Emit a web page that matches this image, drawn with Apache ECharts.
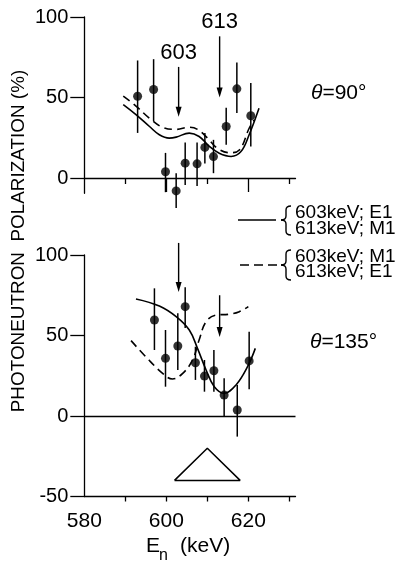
<!DOCTYPE html>
<html><head><meta charset="utf-8">
<script src="https://cdn.jsdelivr.net/npm/echarts@6/dist/echarts.min.js"></script>
<style>html,body{margin:0;padding:0;background:#fff}#c{width:403px;height:561px}</style>
</head><body><div id="c"></div>
<script>
// ---------- top panel (theta = 90 deg) ----------
const topX  = [593.0, 596.9, 599.8, 602.4, 604.6, 607.5, 609.4, 611.5, 614.6, 617.2, 620.6];
const topY  = [50.8, 55.0, 3.9, -8.0, 9.2, 8.8, 19.0, 13.3, 32.0, 55.4, 38.7];
const topLo = [28, 35.2, -8.8, -18.6, -4.4, -5, 9, 3, 20.6, 40.4, 19.6];
const topHi = [73, 73.8, 15.6, 3, 22, 22, 28, 23.7, 43.7, 71.7, 59];
const topSolidX = [589.5, 592.6, 595.9, 598.3, 600.7, 602.4, 605.6, 608.0, 610.5, 612.9, 615.8, 618.2, 620.2, 622.6];
const topSolidY = [45.6, 39.4, 32.0, 26.9, 24.8, 25.4, 27.9, 25.8, 19.6, 15.4, 13.4, 16.4, 26.9, 43.3];
const topDashX  = [589.5, 592.6, 595.9, 599.1, 602.4, 605.6, 607.6, 610.1, 612.5, 615.4, 617.8, 620.2, 621.4];
const topDashY  = [50.8, 44.7, 37.1, 31.5, 30.2, 31.5, 30.2, 24.7, 18.4, 15.7, 17.4, 30.9, 36.0];
const topArrowX = [603, 613];
const topArrowFrom = [69, 88];
const topArrowTo = [38, 50];
const topArrowLabel = ['603', '613'];

// ---------- bottom panel (theta = 135 deg) ----------
const botX  = [597.1, 599.8, 602.8, 604.6, 607.1, 609.3, 611.6, 614.1, 617.3, 620.2];
const botY  = [59.6, 35.8, 43.5, 67.9, 33.1, 24.8, 28.1, 13.0, 3.7, 34.2];
const botLo = [41, 18.2, 28.6, 54.6, 22.4, 15.1, 15, 0, -12.8, 16.6];
const botHi = [79.3, 53.4, 63.8, 80, 43, 34.8, 41, 23.4, 19.3, 52.4];
const botSolidX = [592.6, 598.3, 602.4, 605.6, 607.6, 609.7, 611.7, 614.1, 617.0, 619.8, 621.7];
const botSolidY = [72.7, 68.3, 61.7, 53.4, 42.0, 28.6, 18.2, 14.1, 19.3, 30.6, 42.0];
const botDashX  = [591.4, 595.0, 599.1, 601.5, 604.0, 606.4, 608.0, 609.7, 612.1, 615.4, 617.8, 620.0];
const botDashY  = [46.8, 36.8, 26.5, 23.0, 26.5, 34.8, 47.2, 58.6, 62.7, 63.2, 64.8, 67.9];
const botArrowX = [603, 613];
const botArrowFrom = [107.5, 75];
const botArrowTo = [77, 49];
const triX = [602, 610, 618, 602];
const triY = [-40, -20, -40, -40];

// ---------- ticks ----------
const xTickLabels = [580, 600, 620];
const xMajorTicks = [600, 620];
const xMinorTicks = [590, 610, 630];
const xBottomTicks = [590, 600, 610, 620, 630];
const yTicksTop = [0, 50, 100];
const yTicksBot = [-50, 0, 50, 100];

const FONT = 'Liberation Sans';
const zip2 = (a, b) => a.map((v, i) => [v, b[i]]);
const zip3 = (a, b, c) => a.map((v, i) => [v, b[i], c[i]]);

function errRender(params, api) {
  const x = api.value(0);
  const p1 = api.coord([x, api.value(1)]), p2 = api.coord([x, api.value(2)]);
  return {type: 'line', shape: {x1: p1[0], y1: p1[1], x2: p2[0], y2: p2[1]},
          style: {stroke: '#000', lineWidth: 1.5}};
}
function makeArrowRender(labels) {
  return function (params, api) {
    const x = api.value(0);
    const a = api.coord([x, api.value(1)]), b = api.coord([x, api.value(2)]);
    const ch = [
      {type: 'line', shape: {x1: a[0], y1: a[1], x2: b[0], y2: b[1] - 6}, style: {stroke: '#000', lineWidth: 1.4}},
      {type: 'polygon', shape: {points: [[b[0] - 3, b[1] - 10], [b[0] + 3, b[1] - 10], [b[0], b[1]]]}, style: {fill: '#000'}}
    ];
    if (labels && labels[params.dataIndex]) {
      ch.push({type: 'text', x: a[0], y: a[1] - 14,
        style: {text: labels[params.dataIndex], align: 'center', verticalAlign: 'middle',
                font: '22px "' + FONT + '"', fill: '#000'}});
    }
    return {type: 'group', children: ch};
  };
}
// legend brace (pure decoration)
function brace(xr, xt, y0, ym, y1) {
  const xm = xt + 5, st = {stroke: '#000', lineWidth: 1.4, fill: null};
  return {type: 'group', children: [
    {type: 'bezierCurve', shape: {x1: xr, y1: y0, cpx1: xm, cpy1: y0, x2: xm, y2: y0 + 4}, style: st},
    {type: 'line', shape: {x1: xm, y1: y0 + 4, x2: xm, y2: ym - 4}, style: st},
    {type: 'bezierCurve', shape: {x1: xm, y1: ym - 4, cpx1: xm, cpy1: ym, x2: xt, y2: ym}, style: st},
    {type: 'bezierCurve', shape: {x1: xt, y1: ym, cpx1: xm, cpy1: ym, x2: xm, y2: ym + 4}, style: st},
    {type: 'line', shape: {x1: xm, y1: ym + 4, x2: xm, y2: y1 - 4}, style: st},
    {type: 'bezierCurve', shape: {x1: xm, y1: y1 - 4, cpx1: xm, cpy1: y1, x2: xr, y2: y1}, style: st}
  ]};
}

const axisLineStyle = {color: '#000', width: 1.3};
const labelStyle = {color: '#000', fontFamily: FONT, fontSize: 21};

const option = {
  animation: false,
  backgroundColor: '#fff',
  grid: [
    {left: 84.3, top: 17, width: 211.2, height: 176.3},
    {left: 84.3, top: 255, width: 211.2, height: 241.5}
  ],
  xAxis: [
    {gridIndex: 0, type: 'value', min: 580, max: 631.5, position: 'bottom',
     axisLine: {onZero: true, lineStyle: axisLineStyle},
     axisTick: {customValues: xMajorTicks, length: 14, lineStyle: {color: '#000', width: 1.3}},
     axisLabel: {show: false}, splitLine: {show: false}},
    {gridIndex: 0, type: 'value', min: 580, max: 631.5, position: 'bottom',
     axisLine: {show: false, onZero: true, onZeroAxisIndex: 0},
     axisTick: {customValues: xMinorTicks, length: 6, lineStyle: {color: '#000', width: 1.3}},
     axisLabel: {show: false}, splitLine: {show: false}},
    {gridIndex: 1, type: 'value', min: 580, max: 631.5, position: 'bottom',
     axisLine: {onZero: false, lineStyle: axisLineStyle},
     axisTick: {customValues: xBottomTicks, length: 5, lineStyle: {color: '#000', width: 1.3}},
     axisLabel: Object.assign({customValues: xTickLabels, margin: 14}, labelStyle),
     splitLine: {show: false}}
  ],
  yAxis: [
    {gridIndex: 0, type: 'value', min: -9.5, max: 100,
     axisLine: {show: true, onZero: false, lineStyle: axisLineStyle},
     axisTick: {show: true, customValues: yTicksTop, length: 14, lineStyle: {color: '#000', width: 1.3}},
     axisLabel: Object.assign({customValues: yTicksTop, margin: 16}, labelStyle, {fontSize: 20}),
     splitLine: {show: false}},
    {gridIndex: 1, type: 'value', min: -50, max: 100,
     axisLine: {show: true, onZero: false, lineStyle: axisLineStyle},
     axisTick: {show: true, customValues: yTicksBot, length: 14, lineStyle: {color: '#000', width: 1.3}},
     axisLabel: Object.assign({customValues: yTicksBot, margin: 16}, labelStyle, {fontSize: 20}),
     splitLine: {show: false}}
  ],
  series: [
    // top panel
    {type: 'line', xAxisIndex: 0, yAxisIndex: 0, data: zip2(topSolidX, topSolidY), smooth: 0.4,
     showSymbol: false, lineStyle: {color: '#000', width: 1.6}},
    {type: 'line', xAxisIndex: 0, yAxisIndex: 0, data: zip2(topDashX, topDashY), smooth: 0.4,
     showSymbol: false, lineStyle: {color: '#000', width: 1.6, type: [8, 5]}},
    {type: 'custom', xAxisIndex: 0, yAxisIndex: 0, data: zip3(topX, topLo, topHi),
     encode: {x: 0, y: [1, 2]}, renderItem: errRender, z: 3},
    {type: 'scatter', xAxisIndex: 0, yAxisIndex: 0, data: zip2(topX, topY), symbol: 'circle',
     symbolSize: 9, itemStyle: {color: '#000'}, z: 4},
    {type: 'custom', xAxisIndex: 0, yAxisIndex: 0, data: zip3(topArrowX, topArrowFrom, topArrowTo),
     encode: {x: 0, y: [1, 2]}, renderItem: makeArrowRender(topArrowLabel), clip: false, z: 5},
    // bottom panel
    {type: 'line', xAxisIndex: 2, yAxisIndex: 1, data: zip2(botSolidX, botSolidY), smooth: 0.4,
     showSymbol: false, lineStyle: {color: '#000', width: 1.6},
     markLine: {silent: true, symbol: 'none', label: {show: false},
       lineStyle: {color: '#000', type: 'solid', width: 1.3}, data: [{yAxis: 0}]}},
    {type: 'line', xAxisIndex: 2, yAxisIndex: 1, data: zip2(botDashX, botDashY), smooth: 0.4,
     showSymbol: false, lineStyle: {color: '#000', width: 1.6, type: [8, 5]}},
    {type: 'custom', xAxisIndex: 2, yAxisIndex: 1, data: zip3(botX, botLo, botHi),
     encode: {x: 0, y: [1, 2]}, renderItem: errRender, z: 3},
    {type: 'scatter', xAxisIndex: 2, yAxisIndex: 1, data: zip2(botX, botY), symbol: 'circle',
     symbolSize: 9, itemStyle: {color: '#000'}, z: 4},
    {type: 'custom', xAxisIndex: 2, yAxisIndex: 1, data: zip3(botArrowX, botArrowFrom, botArrowTo),
     encode: {x: 0, y: [1, 2]}, renderItem: makeArrowRender(null), clip: false, z: 5},
    {type: 'line', xAxisIndex: 2, yAxisIndex: 1, data: zip2(triX, triY), smooth: false,
     showSymbol: false, lineStyle: {color: '#000', width: 1.5}}
  ],
  graphic: [
    {type: 'text', x: 19, y: 241, rotation: Math.PI / 2,
     style: {text: 'PHOTONEUTRON  POLARIZATION (%)', align: 'center', verticalAlign: 'middle',
             font: '18.9px "' + FONT + '"', fill: '#000'}},
    {type: 'text', x: 146, y: 546, style: {text: 'E', align: 'left', verticalAlign: 'middle', font: '21px "' + FONT + '"', fill: '#000'}},
    {type: 'text', x: 159, y: 556, style: {text: 'n', align: 'left', verticalAlign: 'middle', font: '16px "' + FONT + '"', fill: '#000'}},
    {type: 'text', x: 180, y: 546, style: {text: '(keV)', align: 'left', verticalAlign: 'middle', font: '21px "' + FONT + '"', fill: '#000'}},
    {type: 'text', x: 311, y: 93, style: {
      text: '{i|θ}=90°', align: 'left', verticalAlign: 'middle', font: '21px "' + FONT + '"', fill: '#000',
      rich: {i: {fontStyle: 'italic', fontSize: 21, fontFamily: FONT, fill: '#000'}}}},
    {type: 'text', x: 310, y: 342, style: {
      text: '{i|θ}=135°', align: 'left', verticalAlign: 'middle', font: '21px "' + FONT + '"', fill: '#000',
      rich: {i: {fontStyle: 'italic', fontSize: 21, fontFamily: FONT, fill: '#000'}}}},
    // legend
    {type: 'line', shape: {x1: 238, y1: 220, x2: 276, y2: 220}, style: {stroke: '#000', lineWidth: 1.5}},
    brace(291, 281, 206, 220, 235),
    {type: 'text', x: 295, y: 213, style: {text: '603keV; E1', align: 'left', verticalAlign: 'middle', font: '19px "' + FONT + '"', fill: '#000'}},
    {type: 'text', x: 295, y: 229, style: {text: '613keV; M1', align: 'left', verticalAlign: 'middle', font: '19px "' + FONT + '"', fill: '#000'}},
    {type: 'line', shape: {x1: 240, y1: 265, x2: 281, y2: 265}, style: {stroke: '#000', lineWidth: 1.5, lineDash: [9, 5]}},
    brace(291, 281, 250, 265, 280),
    {type: 'text', x: 295, y: 257, style: {text: '603keV; M1', align: 'left', verticalAlign: 'middle', font: '19px "' + FONT + '"', fill: '#000'}},
    {type: 'text', x: 295, y: 272, style: {text: '613keV; E1', align: 'left', verticalAlign: 'middle', font: '19px "' + FONT + '"', fill: '#000'}}
  ]
};
const chart = echarts.init(document.getElementById('c'), null, {renderer: 'canvas'});
chart.setOption(option);
</script></body></html>
